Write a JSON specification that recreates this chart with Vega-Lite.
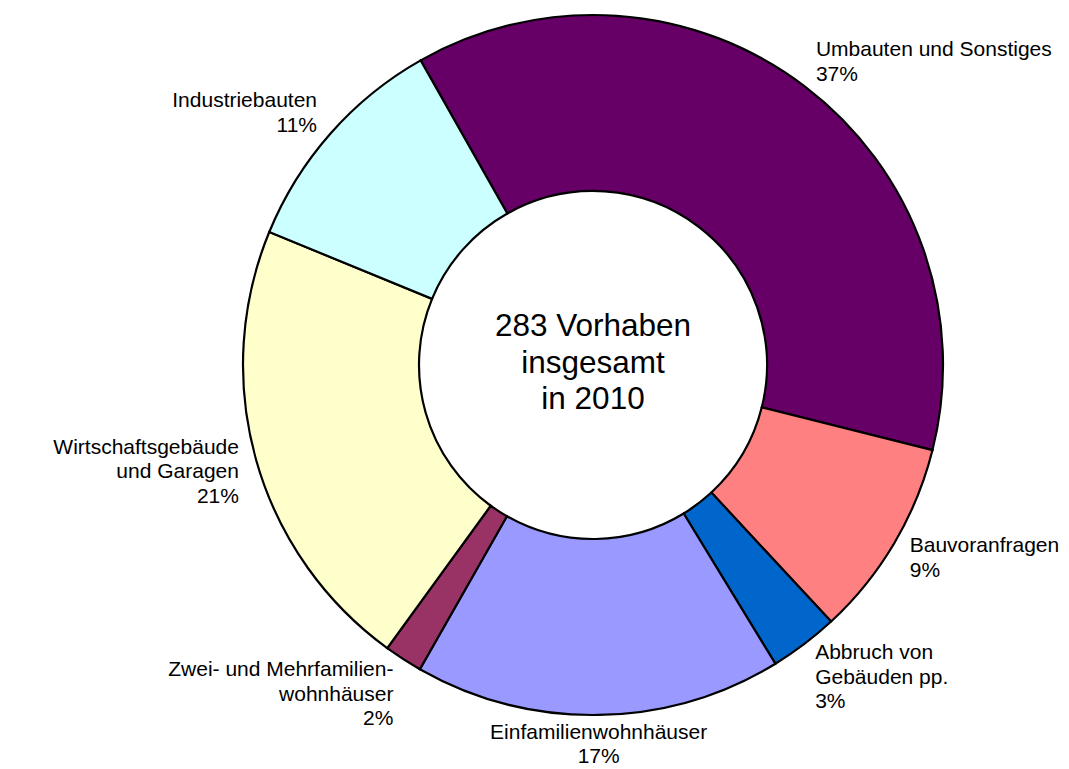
{
  "$schema": "https://vega.github.io/schema/vega-lite/v6.json",
  "autosize": "none",
  "width": 952,
  "height": 730,
  "padding": {"left": 117, "top": 0, "right": 0, "bottom": 39},
  "background": "white",
  "config": {"view": {"stroke": null}, "font": "Liberation Sans"},
  "layer": [
    {
      "data": {"name": "vorhaben", "values": [
        {"kat": "Umbauten und Sonstiges", "label": "Umbauten und Sonstiges\n37%", "n": 105, "ord": 1},
        {"kat": "Bauvoranfragen", "label": "Bauvoranfragen\n9%", "n": 26, "ord": 2},
        {"kat": "Abbruch von Gebäuden pp.", "label": "Abbruch von\nGebäuden pp.\n3%", "n": 9, "ord": 3},
        {"kat": "Einfamilienwohnhäuser", "label": "Einfamilienwohnhäuser\n17%", "n": 48, "ord": 4},
        {"kat": "Zwei- und Mehrfamilienwohnhäuser", "label": "Zwei- und Mehrfamilien-\nwohnhäuser\n2%", "n": 5, "ord": 5},
        {"kat": "Wirtschaftsgebäude und Garagen", "label": "Wirtschaftsgebäude\nund Garagen\n21%", "n": 60, "ord": 6},
        {"kat": "Industriebauten", "label": "Industriebauten\n11%", "n": 30, "ord": 7}
      ]},
      "layer": [
        {
          "mark": {"type": "arc", "outerRadius": 350, "innerRadius": 174, "stroke": "black", "strokeWidth": 2.2},
          "encoding": {
            "theta": {"field": "n", "type": "quantitative", "stack": true, "scale": {"range": [-0.5149, 5.7683]}},
            "order": {"field": "ord", "type": "quantitative"},
            "color": {
              "field": "kat", "type": "nominal", "legend": null,
              "scale": {
                "domain": ["Umbauten und Sonstiges", "Bauvoranfragen", "Abbruch von Gebäuden pp.", "Einfamilienwohnhäuser", "Zwei- und Mehrfamilienwohnhäuser", "Wirtschaftsgebäude und Garagen", "Industriebauten"],
                "range": ["#660066", "#FF8080", "#0066CC", "#9999FF", "#993366", "#FFFFCC", "#CCFFFF"]
              }
            }
          }
        },
        {
          "mark": {
            "type": "text", "radius": 368, "fontSize": 21, "lineHeight": 24.5, "lineBreak": "\n", "color": "black", "baseline": "middle",
            "align": {"expr": "abs(sin(scale('theta', (datum.n_start + datum.n_end) / 2))) < 0.3 ? 'center' : (sin(scale('theta', (datum.n_start + datum.n_end) / 2)) > 0 ? 'left' : 'right')"},
            "dy": {"expr": "-(length(split(datum.label, '\\n')) - 1) * 24.5 * (1 + cos(scale('theta', (datum.n_start + datum.n_end) / 2))) / 2"}
          },
          "encoding": {
            "theta": {"field": "n", "type": "quantitative", "stack": true},
            "order": {"field": "ord", "type": "quantitative"},
            "text": {"field": "label", "type": "nominal"}
          }
        }
      ]
    },
    {
      "data": {"values": [{"t": "283 Vorhaben\ninsgesamt\nin 2010"}]},
      "mark": {"type": "text", "fontSize": 31.5, "lineHeight": 36.7, "lineBreak": "\n", "align": "center", "baseline": "middle", "color": "black", "dy": -38},
      "encoding": {"text": {"field": "t", "type": "nominal"}}
    }
  ]
}
